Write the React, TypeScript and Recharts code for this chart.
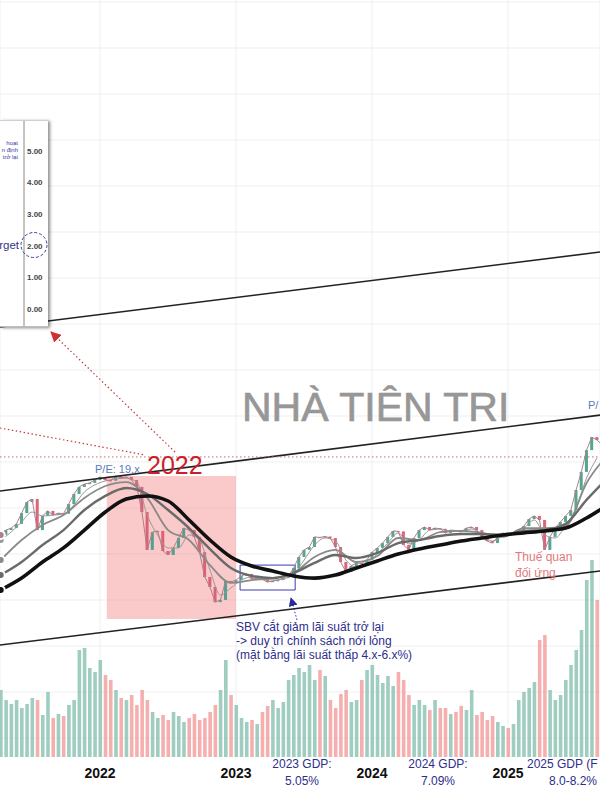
import React from 'react';
import {
  ComposedChart, Line, Bar, XAxis, YAxis, CartesianGrid,
  ReferenceLine, ReferenceArea, Cell,
} from 'recharts';

// ---- time window (fractional years) ----
const T0 = 2021.2647;
const T1 = 2025.6765;
const START = 2021.27;   // first biweekly sample
const STEP = 1 / 26;     // biweekly

const yearTicks = [2022, 2023, 2024, 2025];

// ---- VN-Index biweekly closes ----
const closes = [
  1252, 1274, 1283, 1302, 1351, 1401, 1415, 1274, 1338, 1361,
  1342, 1351, 1348, 1392, 1438, 1470, 1483, 1488, 1501, 1515,
  1501, 1498, 1519, 1510, 1515, 1501, 1470, 1356, 1184, 1265,
  1270, 1179, 1161, 1193, 1238, 1283, 1274, 1243, 1174, 1061,
  1016, 947, 957, 1043, 1038, 1047, 1066, 1075, 1052, 1055,
  1050, 1038, 1043, 1047, 1056, 1066, 1102, 1152, 1184, 1197,
  1243, 1240, 1245, 1238, 1197, 1129, 1084, 1111, 1125, 1122,
  1138, 1174, 1193, 1215, 1243, 1270, 1268, 1206, 1184, 1238,
  1274, 1288, 1274, 1283, 1280, 1261, 1274, 1272, 1265, 1283,
  1288, 1274, 1243, 1224, 1215, 1243, 1261, 1252, 1261, 1270,
  1292, 1324, 1338, 1320, 1184, 1243, 1283, 1311, 1338, 1365,
  1456, 1538, 1637, 1696, 1683, 1660,
];

// ---- matched volume, million shares ----
const volumes = [
  1005, 855, 795, 855, 735, 795, 885, 855, 630, 975,
  585, 645, 615, 780, 855, 1605, 1635, 1335, 1275, 1455,
  1230, 1155, 1005, 885, 855, 930, 780, 1005, 855, 675,
  585, 630, 555, 675, 615, 525, 585, 645, 555, 585,
  675, 780, 1005, 1455, 930, 780, 585, 525, 555, 495,
  675, 765, 855, 735, 825, 1155, 1230, 1335, 1275, 1380,
  1155, 1305, 1215, 855, 735, 945, 1005, 825, 855, 1155,
  1305, 1380, 1230, 1110, 1215, 1065, 1275, 1155, 930, 780,
  855, 780, 705, 855, 735, 735, 645, 675, 765, 705,
  1005, 630, 675, 555, 615, 525, 465, 435, 495, 855,
  975, 1035, 1125, 1755, 1830, 1005, 855, 930, 1155, 1380,
  1605, 1905, 2655, 2955, 2355, 2280,
];

// ---- moving averages ----
// MA20 sampled every 2 points
const ma20 = [
  1229, 1265, 1311, 1356, 1338, 1342, 1347, 1388, 1447, 1479,
  1497, 1506, 1510, 1492, 1342, 1252, 1193, 1193, 1252, 1229,
  1093, 979, 1011, 1047, 1061, 1052, 1047, 1052, 1075, 1138,
  1206, 1238, 1224, 1138, 1106, 1125, 1165, 1215, 1261, 1211,
  1229, 1274, 1279, 1270, 1270, 1279, 1256, 1224, 1247, 1261,
  1283, 1320, 1252, 1238, 1297, 1374, 1510, 1601,
];
// MA50 / MA100 / MA200 sampled every 4 points
const ma50 = [
  1138, 1229, 1297, 1342, 1420, 1474, 1492, 1420, 1274, 1229,
  1115, 1034, 1047, 1056, 1079, 1152, 1184, 1129, 1156, 1238,
  1229, 1265, 1270, 1261, 1243, 1283, 1283, 1292, 1488, 1615,
];
const ma100 = [
  1070, 1129, 1206, 1274, 1365, 1429, 1465, 1438, 1365, 1283,
  1188, 1102, 1066, 1056, 1079, 1125, 1161, 1147, 1170, 1215,
  1229, 1247, 1256, 1256, 1252, 1270, 1274, 1302, 1411, 1510,
];
const ma200 = [
  1002, 1056, 1129, 1193, 1274, 1356, 1415, 1429, 1406, 1320,
  1229, 1152, 1111, 1088, 1066, 1056, 1070, 1102, 1134, 1165,
  1188, 1206, 1224, 1238, 1252, 1261, 1270, 1283, 1329, 1388,
];

// ---- drawn trend channel (time, index level) ----
const channelLines = [
  { x1: T0, y1: 2196, x2: T1, y2: 2536 },
  { x1: T0, y1: 1451, x2: T1, y2: 1796 },
  { x1: T0, y1: 752, x2: T1, y2: 1088 },
];
const peakLevel = 1606;
const bearZone = { x1: 2022.05, x2: 2023.0, y1: 870, y2: 1520 };
const sbvZone = { x1: 2023.03, x2: 2023.435, y1: 1002, y2: 1115 };

// inset (policy rate panel) ticks
const insetTicks = [0, 1, 2, 3, 4, 5];

const rows = Array.from({ length: closes.length + 1 }, (_, i) => {
  const r: any = { t: START + i * STEP };
  if (i < closes.length) {
    const open = i > 0 ? closes[i - 1] : closes[i];
    r.close = closes[i];
    r.open = open;
    r.body = [Math.min(open, closes[i]), Math.max(open, closes[i])];
    r.up = closes[i] >= open;
    r.vol = volumes[i];
  }
  if (i % 2 === 0 && i / 2 < ma20.length) r.ma20 = ma20[i / 2];
  if (i % 4 === 0) {
    r.ma50 = ma50[i / 4];
    r.ma100 = ma100[i / 4];
    r.ma200 = ma200[i / 4];
  }
  return r;
});

const FONT = '"Liberation Sans", Arial, sans-serif';
const UP = '#3f9c86';
const DOWN = '#d9546a';
const VUP = '#7fbcab';
const VDOWN = '#f29494';
const NAVY = '#2e2e8c';

const gridYs = Array.from({ length: 17 }, (_, k) => 2 + 46 * k);

const Candle = (props: any) => {
  const { x, y, width, height, payload } = props;
  if (x == null || y == null || !payload) return null;
  const h = Math.max(Math.abs(height || 0), 1.2);
  const top = height < 0 ? y + height : y;
  return <rect x={x} y={top} width={width} height={h} fill={payload.up ? UP : DOWN} fillOpacity={0.9} />;
};

const YearTick = (props: any) => {
  const { x, y, payload } = props;
  return (
    <text x={x} y={y + 21} textAnchor="middle" fontSize={14} fontWeight="bold" fill="#111" fontFamily={FONT}>
      {payload.value}
    </text>
  );
};

export default function App() {
  return (
    <div style={{ position: 'absolute', left: 0, top: 0, width: 600, height: 800, background: '#fff', overflow: 'hidden' }}>
      <ComposedChart width={600} height={800} data={rows} margin={{ top: 0, right: 0, bottom: 0, left: 0 }}>
        <CartesianGrid xAxisId="main" yAxisId="p" stroke="#efefef" horizontalPoints={gridYs} />
        <XAxis xAxisId="main" dataKey="t" type="number" domain={[T0, T1]} ticks={yearTicks} interval={0}
          allowDataOverflow axisLine={false} tickLine={false} tickSize={0} tickMargin={0} height={43} tick={<YearTick />} />
        <XAxis xAxisId="vol" dataKey="t" type="number" domain={[T0, T1]} allowDataOverflow hide />
        <YAxis yAxisId="p" domain={[244, 3680]} allowDataOverflow hide />
        <YAxis yAxisId="v" domain={[0, 11355]} allowDataOverflow hide />

        <ReferenceArea xAxisId="main" yAxisId="p" {...bearZone} fill="#f27f7f" fillOpacity={0.42} stroke="none" ifOverflow="visible" />

        <Bar xAxisId="vol" yAxisId="v" dataKey="vol" barSize={3.6} isAnimationActive={false}>
          {rows.map((r, i) => (
            <Cell key={i} fill={r.up ? VUP : VDOWN} fillOpacity={0.75} />
          ))}
        </Bar>

        <Line xAxisId="main" yAxisId="p" dataKey="ma20" type="monotone" connectNulls dot={false} stroke="#9a9a9a" strokeWidth={1} isAnimationActive={false} />
        <Line xAxisId="main" yAxisId="p" dataKey="close" type="linear" dot={false} stroke="#b07f8a" strokeWidth={1} isAnimationActive={false} />
        <Bar xAxisId="main" yAxisId="p" dataKey="body" barSize={3} shape={Candle} isAnimationActive={false} />

        <Line xAxisId="main" yAxisId="p" dataKey="ma50" type="monotone" connectNulls dot={false} stroke="#8a8a8a" strokeWidth={1.8} isAnimationActive={false} />
        <Line xAxisId="main" yAxisId="p" dataKey="ma100" type="monotone" connectNulls dot={false} stroke="#6a6a6a" strokeWidth={2.4} isAnimationActive={false} />
        <Line xAxisId="main" yAxisId="p" dataKey="ma200" type="monotone" connectNulls dot={false} stroke="#111" strokeWidth={3.6} isAnimationActive={false} />

        {channelLines.map((c, i) => (
          <ReferenceLine key={i} xAxisId="main" yAxisId="p" ifOverflow="visible"
            segment={[{ x: c.x1, y: c.y1 }, { x: c.x2, y: c.y2 }]} stroke="#222" strokeWidth={1.6} />
        ))}
        <ReferenceLine xAxisId="main" yAxisId="p" y={peakLevel} stroke="#c46a6a" strokeDasharray="1.5 2.5" strokeWidth={1} />
        <ReferenceArea xAxisId="main" yAxisId="p" {...sbvZone} fill="none" fillOpacity={0} stroke="#3b3bb0" strokeWidth={1} ifOverflow="visible" />
      </ComposedChart>

      {/* inset: policy-rate panel */}
      <div style={{ position: 'absolute', left: 0, top: 120, width: 48, height: 205, background: '#fff',
        borderTop: '1px solid #cfcfcf', borderBottom: '1px solid #bdbdbd', boxShadow: '2px 1px 3px rgba(0,0,0,0.45)' }}>
        <ComposedChart width={48} height={205} data={[{ x: 0 }, { x: 1 }]} margin={{ top: 0, right: 0, bottom: 0, left: 0 }}>
          <XAxis dataKey="x" type="number" domain={[0, 1]} hide />
          <YAxis orientation="right" width={24} domain={[-0.54, 5.95]} ticks={insetTicks} interval={0} allowDataOverflow
            tickFormatter={(v: number) => v.toFixed(2)} axisLine={{ stroke: '#888' }} tickLine={false} tickSize={0} tickMargin={3}
            tick={{ fontSize: 8, fill: '#444', fontWeight: 600, fontFamily: FONT, textAnchor: 'start' }} />
        </ComposedChart>
      </div>

      <svg width={600} height={800} style={{ position: 'absolute', left: 0, top: 0, pointerEvents: 'none' }} fontFamily={FONT}>
        <defs>
          <marker id="redHead" viewBox="0 0 10 10" refX="9" refY="5" markerWidth="9" markerHeight="9" orient="auto-start-reverse">
            <path d="M0,0 L10,5 L0,10 z" fill="#d03030" />
          </marker>
          <marker id="blueHead" viewBox="0 0 10 10" refX="9" refY="5" markerWidth="9" markerHeight="9" orient="auto-start-reverse">
            <path d="M0,0 L10,5 L0,10 z" fill="#2a2aa0" />
          </marker>
        </defs>

        {/* inset texts (cropped in the source image) */}
        <text x={18} y={145} fontSize={6} fill="#3a3aa8" textAnchor="end">hoạt</text>
        <text x={18} y={152} fontSize={6} fill="#3a3aa8" textAnchor="end">n định</text>
        <text x={18} y={159} fontSize={6} fill="#3a3aa8" textAnchor="end">trở lại</text>
        <text x={19} y={249} fontSize={11.5} fill="#33338a" textAnchor="end">rget</text>
        <ellipse cx={34} cy={245} rx={13} ry={12.5} fill="none" stroke="#3b3b8f" strokeDasharray="3 2" strokeWidth={1} />

        {/* watermark */}
        <text x={242} y={421} fontSize={41} fill="#979797" stroke="#979797" strokeWidth={0.7}>NHÀ TIÊN TRI</text>

        {/* red dotted pointers */}
        <line x1={175} y1={452} x2={51} y2={332} stroke="#c83a3a" strokeWidth={1.2} strokeDasharray="1.5 2.5" markerEnd="url(#redHead)" />
        <line x1={0} y1={428} x2={145} y2={455} stroke="#c83a3a" strokeWidth={1.2} strokeDasharray="1.5 2.5" />

        <text x={147} y={474} fontSize={25} fill="#cc1f2a">2022</text>
        <text x={95} y={473} fontSize={11} fill="#5a7ab8">P/E: 19.x</text>
        <text x={588} y={409} fontSize={11} fill="#5a7ab8">P/</text>

        {/* SBV note */}
        <line x1={297} y1={620} x2={291} y2={598} stroke="#2a2aa0" strokeWidth={1} strokeDasharray="1.5 2" markerEnd="url(#blueHead)" />
        <text x={236} y={631} fontSize={12} fill={NAVY}>SBV cắt giảm lãi suất trở lại</text>
        <text x={236} y={645} fontSize={12} fill={NAVY}>-&gt; duy trì chính sách nới lỏng</text>
        <text x={236} y={659} fontSize={12} fill={NAVY}>(mặt bằng lãi suất thấp 4.x-6.x%)</text>

        <text x={515} y={561} fontSize={12} fill="#e07a7a">Thuế quan</text>
        <text x={515} y={577} fontSize={12} fill="#e07a7a">đối ứng</text>

        {/* GDP notes */}
        <text x={302} y={768} fontSize={12} fill={NAVY} textAnchor="middle">2023 GDP:</text>
        <text x={302} y={785} fontSize={12} fill={NAVY} textAnchor="middle">5.05%</text>
        <text x={438} y={768} fontSize={12} fill={NAVY} textAnchor="middle">2024 GDP:</text>
        <text x={438} y={785} fontSize={12} fill={NAVY} textAnchor="middle">7.09%</text>
        <text x={527} y={768} fontSize={12} fill={NAVY}>2025 GDP (F</text>
        <text x={573} y={785} fontSize={12} fill={NAVY} textAnchor="middle">8.0-8.2%</text>
      </svg>
    </div>
  );
}
